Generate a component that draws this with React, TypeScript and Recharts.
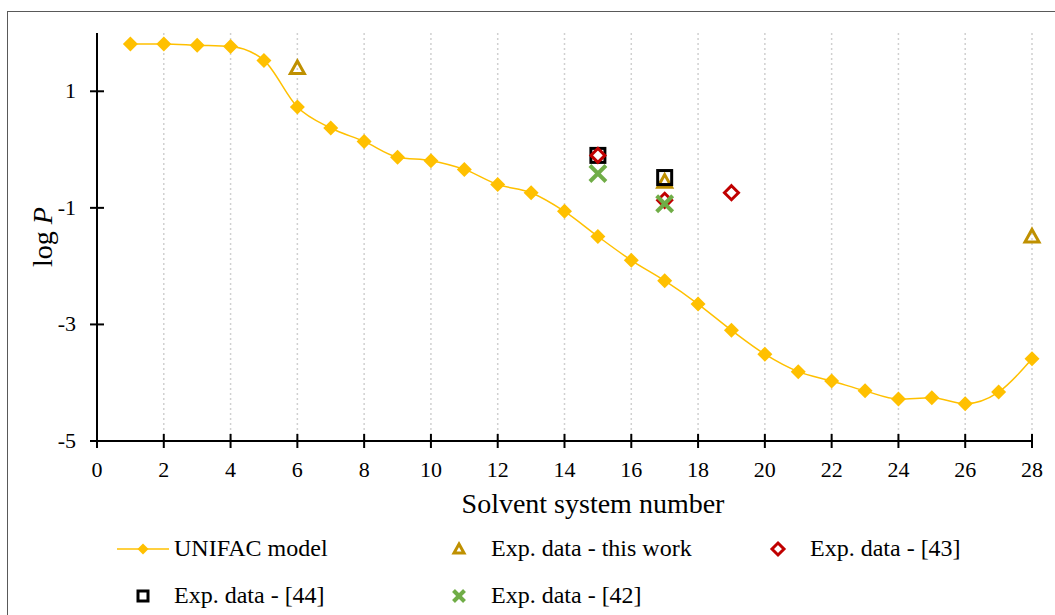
import React from "react"
import { ComposedChart, Line, Scatter, XAxis, YAxis, CartesianGrid } from "recharts"

// solvent systems 1..28, UNIFAC predicted log P
const solventNo = [1, 2, 3, 4, 5, 6, 7, 8, 9, 10, 11, 12, 13, 14, 15, 16, 17, 18, 19, 20, 21, 22, 23, 24, 25, 26, 27, 28]
const unifacLogP = [
  1.81, 1.81, 1.79, 1.77, 1.53, 0.73, 0.37, 0.14, -0.13, -0.19, -0.34, -0.6, -0.74, -1.06,
  -1.49, -1.9, -2.25, -2.65, -3.1, -3.51, -3.81, -3.97, -4.14, -4.28, -4.26, -4.36, -4.16, -3.59,
]

// experimental points
const thisWorkX = [6, 17, 28]
const thisWorkY = [1.4, -0.55, -1.49]
const ref43X = [15, 17, 19]
const ref43Y = [-0.1, -0.87, -0.74]
const ref44X = [15, 17]
const ref44Y = [-0.1, -0.48]
const ref42X = [15, 17]
const ref42Y = [-0.41, -0.93]

const xTicks = [0, 2, 4, 6, 8, 10, 12, 14, 16, 18, 20, 22, 24, 26, 28]
const yTicks = [-5, -3, -1, 1]

const toPoints = (xs: number[], ys: number[]) => xs.map((x, i) => ({ x, y: ys[i] }))

const unifac = toPoints(solventNo, unifacLogP)
const thisWork = toPoints(thisWorkX, thisWorkY)
const ref43 = toPoints(ref43X, ref43Y)
const ref44 = toPoints(ref44X, ref44Y)
const ref42 = toPoints(ref42X, ref42Y)

const FONT = "Liberation Serif, DejaVu Serif, serif"
const GOLD = "#FFC000"
const DARK_GOLD = "#BF9000"
const RED = "#C00000"
const GREEN = "#70AD47"

const FilledDiamond = ({ cx, cy, size = 7.5 }: any) =>
  cx == null ? null : (
    <polygon points={`${cx},${cy - size} ${cx + size},${cy} ${cx},${cy + size} ${cx - size},${cy}`} fill={GOLD} />
  )

const Triangle = ({ cx, cy, s = 7 }: any) => (
  <polygon
    points={`${cx},${cy - s} ${cx + s},${cy + s * 0.8} ${cx - s},${cy + s * 0.8}`}
    fill="none"
    stroke={DARK_GOLD}
    strokeWidth={3}
  />
)

const OpenDiamond = ({ cx, cy, s = 7 }: any) => (
  <polygon
    points={`${cx},${cy - s} ${cx + s},${cy} ${cx},${cy + s} ${cx - s},${cy}`}
    fill="none"
    stroke={RED}
    strokeWidth={3}
  />
)

const Square = ({ cx, cy, s = 7 }: any) => (
  <rect x={cx - s} y={cy - s} width={s * 2} height={s * 2} fill="none" stroke="#000" strokeWidth={3} />
)

const Cross = ({ cx, cy, s = 8 }: any) => (
  <g stroke={GREEN} strokeWidth={4}>
    <line x1={cx - s} y1={cy - s} x2={cx + s} y2={cy + s} />
    <line x1={cx - s} y1={cy + s} x2={cx + s} y2={cy - s} />
  </g>
)

const XTick = ({ x, y, payload }: any) => (
  <g>
    <line x1={x} x2={x} y1={y - 7} y2={y + 7} stroke="#000" strokeWidth={2} />
    <text x={x} y={y + 36} textAnchor="middle" style={{ fontFamily: FONT, fontSize: 22 }} fill="#000">
      {payload.value}
    </text>
  </g>
)

const YTick = ({ x, y, payload }: any) => (
  <g>
    <line x1={x - 7} x2={x + 7} y1={y} y2={y} stroke="#000" strokeWidth={2} />
    <text x={x - 21} y={y + 7} textAnchor="end" style={{ fontFamily: FONT, fontSize: 22 }} fill="#000">
      {payload.value}
    </text>
  </g>
)

const legendText: React.CSSProperties = {
  position: "absolute",
  fontFamily: FONT,
  fontSize: 24,
  lineHeight: "24px",
  color: "#000",
  whiteSpace: "nowrap",
}

function LegendItem({ iconX, textX, y, label, icon }: any) {
  return (
    <>
      <svg style={{ position: "absolute", left: iconX - 30, top: y - 15 }} width={60} height={30}>
        {icon}
      </svg>
      <div style={{ ...legendText, left: textX, top: y - 13 }}>{label}</div>
    </>
  )
}

export default function App() {
  return (
    <div
      style={{
        position: "absolute",
        left: 0,
        top: 0,
        width: 1055,
        height: 615,
        overflow: "hidden",
        background: "#fff",
        fontFamily: FONT,
      }}
    >
      <div
        style={{
          position: "absolute",
          left: 7,
          top: 11,
          width: 1070,
          height: 640,
          border: "1px solid #595959",
          boxSizing: "border-box",
        }}
      />
      <div style={{ position: "absolute", left: 0, top: 0 }}>
        <ComposedChart width={1055} height={615} margin={{ top: 33, right: 23, left: 0, bottom: 0 }}>
          <CartesianGrid horizontal={false} stroke="#d0d0d0" strokeDasharray="2 3" strokeWidth={1.5} />
          <XAxis
            type="number"
            dataKey="x"
            domain={[0, 28]}
            ticks={xTicks}
            interval={0}
            height={174}
            tickSize={0}
            tickMargin={0}
            tickLine={false}
            axisLine={{ stroke: "#000", strokeWidth: 2 }}
            tick={<XTick />}
            label={{
              content: () => (
                <text x={593} y={513} textAnchor="middle" style={{ fontFamily: FONT, fontSize: 28 }} fill="#000">
                  Solvent system number
                </text>
              ),
            }}
          />
          <YAxis
            type="number"
            dataKey="y"
            domain={[-5, 2]}
            ticks={yTicks}
            interval={0}
            width={97}
            tickSize={0}
            tickMargin={0}
            tickLine={false}
            axisLine={{ stroke: "#000", strokeWidth: 2 }}
            tick={<YTick />}
            label={{
              content: () => (
                <text
                  x={52}
                  y={237}
                  transform="rotate(-90 52 237)"
                  textAnchor="middle"
                  style={{ fontFamily: FONT, fontSize: 28 }}
                  fill="#000"
                >
                  log <tspan fontStyle="italic">P</tspan>
                </text>
              ),
            }}
          />
          <Line
            data={unifac}
            dataKey="y"
            type="monotone"
            stroke={GOLD}
            strokeWidth={1.5}
            dot={<FilledDiamond />}
            activeDot={false}
            isAnimationActive={false}
          />
          <Scatter data={thisWork} dataKey="y" shape={<Triangle />} isAnimationActive={false} />
          <Scatter data={ref44} dataKey="y" shape={<Square />} isAnimationActive={false} />
          <Scatter data={ref43} dataKey="y" shape={<OpenDiamond />} isAnimationActive={false} />
          <Scatter data={ref42} dataKey="y" shape={<Cross />} isAnimationActive={false} />
        </ComposedChart>
      </div>

      <LegendItem
        iconX={143}
        textX={174}
        y={549}
        label="UNIFAC model"
        icon={
          <g>
            <line x1={4} x2={56} y1={15} y2={15} stroke={GOLD} strokeWidth={1.5} />
            <FilledDiamond cx={30} cy={15} size={5.5} />
          </g>
        }
      />
      <LegendItem iconX={459} textX={491} y={549} label="Exp. data - this work" icon={<Triangle cx={30} cy={15} s={5} />} />
      <LegendItem iconX={778} textX={810} y={549} label="Exp. data - [43]" icon={<OpenDiamond cx={30} cy={15} s={6} />} />
      <LegendItem iconX={143} textX={174} y={596} label="Exp. data - [44]" icon={<Square cx={30} cy={15} s={5} />} />
      <LegendItem iconX={459} textX={491} y={596} label="Exp. data - [42]" icon={<Cross cx={30} cy={15} s={5.5} />} />
    </div>
  )
}
